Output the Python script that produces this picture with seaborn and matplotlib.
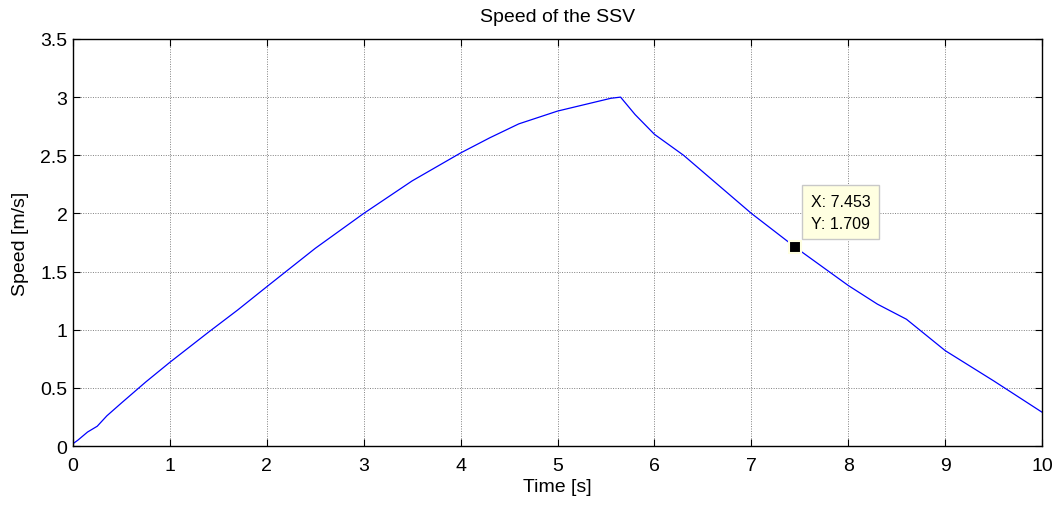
import matplotlib
matplotlib.use("Agg")
import matplotlib.pyplot as plt
import seaborn as sns
import pandas as pd

time_s = [0.0, 0.05, 0.15, 0.25, 0.35, 0.5, 0.75, 1.0, 1.4, 1.7, 2.0, 2.5, 3.0, 3.5,
          4.0, 4.3, 4.6, 5.0, 5.3, 5.45, 5.55, 5.65, 5.8, 6.0, 6.3, 7.0, 7.453, 8.0,
          8.3, 8.6, 9.0, 9.5, 10.0]
speed = [0.02, 0.05, 0.12, 0.17, 0.26, 0.37, 0.55, 0.72, 0.98, 1.17, 1.37, 1.70, 2.0, 2.28,
         2.52, 2.65, 2.77, 2.88, 2.94, 2.97, 2.99, 3.0, 2.85, 2.68, 2.5, 2.0, 1.709, 1.38,
         1.22, 1.09, 0.82, 0.56, 0.29]
x_ticks = [0, 1, 2, 3, 4, 5, 6, 7, 8, 9, 10]
y_ticks = [0, 0.5, 1, 1.5, 2, 2.5, 3, 3.5]
y_tick_labels = ["0", "0.5", "1", "1.5", "2", "2.5", "3", "3.5"]
tip_x, tip_y = 7.453, 1.709

sns.set_theme(style="white")
plt.rcParams["font.family"] = ["Liberation Sans", "DejaVu Sans"]
plt.rcParams["text.color"] = "black"
plt.rcParams["axes.labelcolor"] = "black"

df = pd.DataFrame({"Time": time_s, "Speed": speed})
fig = plt.figure(figsize=(10.58, 5.06), dpi=100)
ax = fig.add_axes([0.069, 0.1166, 0.916, 0.8044])
sns.lineplot(data=df, x="Time", y="Speed", ax=ax, color="#0000ff", linewidth=0.9)

ax.set_xlim(0, 10)
ax.set_ylim(0, 3.5)
ax.set_xticks(x_ticks)
ax.set_xticklabels([str(t) for t in x_ticks])
ax.set_yticks(y_ticks)
ax.set_yticklabels(y_tick_labels)
ax.grid(True, color="#808080", linestyle=(0, (1, 1.5)), linewidth=0.7)
ax.tick_params(direction="in", length=5, width=0.8, top=True, right=True,
               bottom=True, left=True, labelsize=14, colors="black", pad=4)
ax.tick_params(axis="x", pad=8)
for s in ax.spines.values():
    s.set_color("black")
    s.set_linewidth(1.0)

ax.set_xlabel("Time [s]", fontsize=14, labelpad=3)
ax.set_ylabel("Speed [m/s]", fontsize=14, labelpad=8)
ax.set_title("Speed of the SSV", fontsize=14, pad=13, color="black")

ax.plot([tip_x], [tip_y], marker="s", markersize=9, color="black",
        markeredgecolor="#ffffe1", markeredgewidth=1.5, zorder=5)
ax.annotate(f"X: {tip_x}\nY: {tip_y}", xy=(tip_x, tip_y), xytext=(11, 12),
            textcoords="offset points", fontsize=11.5, va="bottom", ha="left",
            linespacing=1.55, color="black",
            bbox=dict(boxstyle="square,pad=0.55", fc="#ffffe1", ec="#c8c8c8", lw=1))

fig.savefig("out.png", dpi=100)
